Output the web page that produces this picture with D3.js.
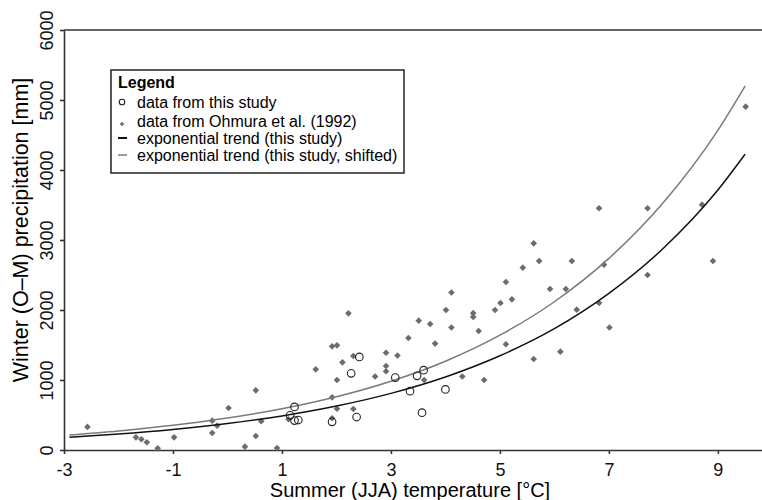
<!DOCTYPE html>
<html>
<head>
<meta charset="utf-8">
<script src="https://cdnjs.cloudflare.com/ajax/libs/d3/7.8.5/d3.min.js"></script>
<style>
  body { margin: 0; background: #fff; }
  svg { font-family: "Liberation Sans", Arial, Helvetica, sans-serif; }
  .axis path, .axis line { stroke: #333; stroke-width: 1.6; }
  .axis text { fill: #111; font-size: 18px; }
</style>
</head>
<body>
<svg width="762" height="500"></svg>
<script>
// data from this study (open circles)
var studyTemp = [1.15, 1.23, 1.23, 1.30, 1.92, 2.27, 2.37, 2.42, 3.08, 3.35, 3.48, 3.57, 3.60, 4.00];
var studyPrecip = [495, 615, 420, 428, 402, 1095, 471, 1330, 1035, 840, 1060, 533, 1140, 865];

// data from Ohmura et al. (1992) (grey diamonds)
var ohmuraTemp = [-2.57, -1.68, -1.58, -1.48, -1.28, -0.98, -0.28, -0.28, -0.19, 0.02,
  0.32, 0.52, 0.52, 0.62, 0.91, 1.12, 1.62, 1.92, 1.92, 1.92,
  2.01, 2.01, 2.01, 2.11, 2.22, 2.31, 2.31, 2.71, 2.91, 2.91,
  2.91, 3.12, 3.32, 3.51, 3.61, 3.72, 3.81, 4.01, 4.11, 4.11,
  4.31, 4.51, 4.51, 4.61, 4.71, 4.91, 5.01, 5.11, 5.11, 5.22,
  5.42, 5.62, 5.62, 5.72, 5.92, 6.11, 6.21, 6.32, 6.41, 6.82,
  6.82, 6.91, 7.01, 7.71, 7.71, 8.71, 8.91, 9.51];
var ohmuraPrecip = [330, 181, 153, 110, 24, 181, 243, 419, 348, 600,
  48, 852, 200, 410, 29, 440, 1152, 752, 453, 1481,
  1495, 1000, 590, 1252, 1952, 1343, 585, 1050, 1390, 1200,
  1125, 1350, 1600, 1848, 1000, 1800, 1520, 2000, 2250, 1750,
  1050, 1955, 1900, 1700, 1000, 2000, 2100, 2400, 1510, 2152,
  2605, 2952, 1300, 2700, 2300, 1405, 2300, 2700, 2005, 3453,
  2100, 2648, 1750, 3453, 2500, 3505, 2700, 4905];

// exponential trend lines
var trendTemp = [-2.9, -2, -1, 0, 1, 2, 3, 4, 5, 6, 7, 8, 9, 9.5];
var trendStudy = [181, 227, 293, 378, 487, 628, 809, 1043, 1346, 1733, 2237, 2882, 3714, 4225];
var trendShifted = [215, 272, 352, 456, 589, 760, 982, 1268, 1640, 2118, 2737, 3535, 4567, 5200];

var xTicks = [-3, -1, 1, 3, 5, 7, 9];
var yTicks = [0, 1000, 2000, 3000, 4000, 5000, 6000];

var legendLabels = ["data from this study", "data from Ohmura et al. (1992)",
  "exponential trend (this study)", "exponential trend (this study, shifted)"];

var svg = d3.select("svg");

var x = d3.scaleLinear().domain([-3, 9.81]).range([64, 762]),
    y = d3.scaleLinear().domain([0, 6000]).range([450, 30]);

var plain = function(d) { return String(d); };

// top frame line
svg.append("line")
    .attr("x1", 64).attr("x2", 762)
    .attr("y1", 30).attr("y2", 30)
    .attr("stroke", "#333").attr("stroke-width", 1.6);

var xAxis = svg.append("g")
    .attr("class", "axis")
    .attr("transform", "translate(0,450)")
    .call(d3.axisBottom(x).tickValues(xTicks).tickFormat(plain).tickSize(4).tickSizeOuter(0));
xAxis.selectAll("text")
    .attr("y", 26).attr("dy", 0);

var yAxis = svg.append("g")
    .attr("class", "axis")
    .attr("transform", "translate(64,0)")
    .call(d3.axisLeft(y).tickValues(yTicks).tickFormat(plain).tickSize(4).tickSizeOuter(0));
yAxis.selectAll("text")
    .attr("transform", "rotate(-90)")
    .attr("text-anchor", "middle")
    .attr("x", 0).attr("y", -11).attr("dy", 0);

svg.selectAll(".axis text").attr("font-size", null).attr("font-family", null);

// axis titles
svg.append("text")
    .attr("x", 410).attr("y", 497)
    .attr("text-anchor", "middle")
    .attr("font-size", 20)
    .text("Summer (JJA) temperature [°C]");

svg.append("text")
    .attr("transform", "translate(28,230) rotate(-90)")
    .attr("text-anchor", "middle")
    .attr("font-size", 21.5)
    .text("Winter (O\u2013M) precipitation [mm]");

// Ohmura diamonds
var diamond = d3.symbol().type(d3.symbolSquare).size(22);
svg.append("g").selectAll("path")
    .data(ohmuraTemp)
    .enter().append("path")
      .attr("d", diamond)
      .attr("fill", "#6c6c6c")
      .attr("transform", function(d, i) {
        return "translate(" + x(d) + "," + y(ohmuraPrecip[i]) + ") rotate(45)";
      });

// trend lines
var line = d3.line().curve(d3.curveMonotoneX);

svg.append("path")
    .attr("d", line(trendTemp.map(function(t, i) { return [x(t), y(trendShifted[i])]; })))
    .attr("fill", "none")
    .attr("stroke", "#7a7a7a")
    .attr("stroke-width", 1.5);

svg.append("path")
    .attr("d", line(trendTemp.map(function(t, i) { return [x(t), y(trendStudy[i])]; })))
    .attr("fill", "none")
    .attr("stroke", "#111")
    .attr("stroke-width", 1.5);

// this study circles
svg.append("g").selectAll("circle")
    .data(studyTemp)
    .enter().append("circle")
      .attr("cx", function(d) { return x(d); })
      .attr("cy", function(d, i) { return y(studyPrecip[i]); })
      .attr("r", 3.8)
      .attr("fill", "none")
      .attr("stroke", "#222")
      .attr("stroke-width", 1.1);

// legend
var lg = svg.append("g").attr("transform", "translate(111,70)");
lg.append("rect")
    .attr("width", 293).attr("height", 103)
    .attr("fill", "#fff")
    .attr("stroke", "#222")
    .attr("stroke-width", 1.5);
lg.append("text")
    .attr("x", 7).attr("y", 18)
    .attr("font-size", 16).attr("font-weight", "bold")
    .text("Legend");

var rowY = [32, 51, 68, 85];
lg.selectAll(".lt")
    .data(legendLabels)
    .enter().append("text")
      .attr("class", "lt")
      .attr("x", 26)
      .attr("y", function(d, i) { return rowY[i]; })
      .attr("dy", "0.35em")
      .attr("font-size", 16)
      .text(function(d) { return d; });

lg.append("circle")
    .attr("cx", 11).attr("cy", rowY[0]).attr("r", 2.8)
    .attr("fill", "none").attr("stroke", "#222").attr("stroke-width", 1.1);
lg.append("path")
    .attr("d", d3.symbol().type(d3.symbolSquare).size(10))
    .attr("fill", "#6c6c6c")
    .attr("transform", "translate(11," + (rowY[1] + 3) + ") rotate(45)");
lg.append("line")
    .attr("x1", 7).attr("x2", 16)
    .attr("y1", rowY[2]).attr("y2", rowY[2])
    .attr("stroke", "#111").attr("stroke-width", 2);
lg.append("line")
    .attr("x1", 7).attr("x2", 16)
    .attr("y1", rowY[3]).attr("y2", rowY[3])
    .attr("stroke", "#7a7a7a").attr("stroke-width", 1.5);
</script>
</body>
</html>
